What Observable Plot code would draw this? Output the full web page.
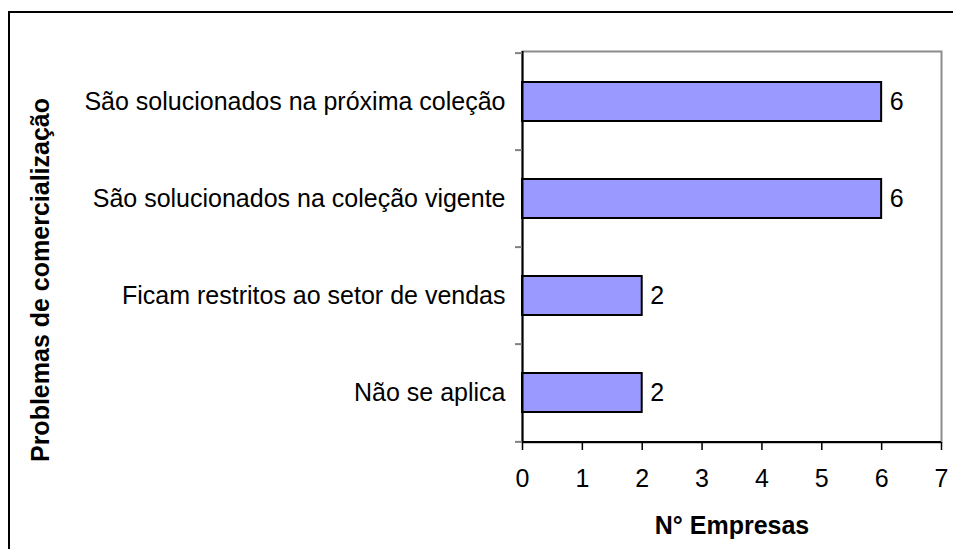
<!DOCTYPE html>
<html>
<head>
<meta charset="utf-8">
<script src="https://cdn.jsdelivr.net/npm/d3@7"></script>
<script src="https://cdn.jsdelivr.net/npm/@observablehq/plot@0.6"></script>
<style>
  html, body { margin: 0; padding: 0; background: white; }
  #wrap { position: relative; width: 953px; height: 549px; overflow: hidden; }
  #border { position: absolute; left: 8px; top: 11px; width: 2000px; height: 2000px;
            border-left: 2px solid black; border-top: 2px solid black; pointer-events: none; }
</style>
</head>
<body>
<div id="wrap"><div id="border"></div></div>
<script>
const categories = [
  "São solucionados na próxima coleção",
  "São solucionados na coleção vigente",
  "Ficam restritos ao setor de vendas",
  "Não se aplica"
];
const values = [6, 6, 2, 2];
const xTicks = [0, 1, 2, 3, 4, 5, 6, 7];
const xTitle = "N° Empresas";
const yTitle = "Problemas de comercialização";

const data = categories.map((c, i) => ({category: c, value: values[i]}));

const W = 953, H = 549, mL = 522, mR = 12, mT = 51, mB = 107;
const step = (H - mT - mB) / categories.length;

const chart = Plot.plot({
  width: W, height: H,
  marginLeft: mL, marginRight: mR, marginTop: mT, marginBottom: mB,
  style: {fontFamily: "'Liberation Sans', Arial, sans-serif", fontSize: "25px", color: "black", background: "white", overflow: "visible"},
  x: {domain: [0, 7]},
  y: {domain: categories, paddingInner: 0.6, paddingOuter: 0.3},
  marks: [
    Plot.frame({stroke: "#8c8c8c", strokeWidth: 2}),
    Plot.barX(data, {x: "value", y: "category", fill: "#9999ff", stroke: "black", strokeWidth: 2}),
    Plot.text(data, {x: "value", y: "category", text: d => String(d.value), textAnchor: "start", dx: 8, fontSize: 25, fill: "black"}),
    Plot.ruleX([0], {stroke: "black", strokeWidth: 2}),
    Plot.ruleY(categories.slice(-1), {dy: step / 2, stroke: "black", strokeWidth: 2}),
    Plot.axisX({ticks: xTicks, tickFormat: d => String(d), tickSize: 8, tickPadding: 19, label: null, stroke: "black", strokeWidth: 1.5}),
    Plot.axisY({tickSize: 0, tickPadding: 17, label: null}),
    Plot.axisY({tickSize: 7, tickFormat: () => "", label: null, dy: -step / 2, stroke: "#808080", strokeWidth: 2}),
    Plot.axisY({ticks: categories.slice(-1), tickSize: 7, tickFormat: () => "", label: null, dy: step / 2, stroke: "#808080", strokeWidth: 2}),
    Plot.text([xTitle], {text: d => d, frameAnchor: "bottom", textAnchor: "middle", dy: 83, lineAnchor: "middle", fontWeight: "bold", fontSize: 25, fill: "black"}),
    Plot.text([yTitle], {text: d => d, frameAnchor: "left", textAnchor: "middle", dx: -482, dy: 33, rotate: -90, lineAnchor: "middle", fontWeight: "bold", fontSize: 25, fill: "black"})
  ]
});
document.getElementById("wrap").insertBefore(chart, document.getElementById("border"));
</script>
</body>
</html>
